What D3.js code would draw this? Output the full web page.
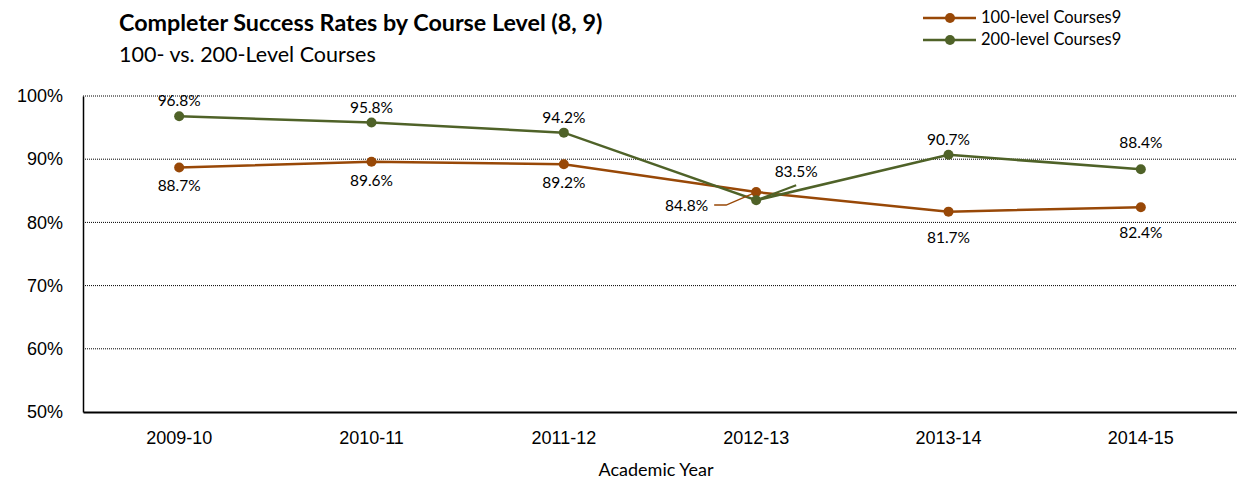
<!DOCTYPE html>
<html>
<head>
<meta charset="utf-8">
<script src="https://cdn.jsdelivr.net/npm/d3@7"></script>
<style>
  body { margin: 0; background: #fff; }
  svg { font-family: Lato, "Open Sans", sans-serif; }
</style>
</head>
<body>
<svg id="chart" width="1237" height="481"></svg>
<script>
// Chart data
const years = ['2009-10', '2010-11', '2011-12', '2012-13', '2013-14', '2014-15'];
const level100 = [88.7, 89.6, 89.2, 84.8, 81.7, 82.4];
const level200 = [96.8, 95.8, 94.2, 83.5, 90.7, 88.4];
const yTicks = [50, 60, 70, 80, 90, 100];

const series = [
  { name: '100-level Courses9', values: level100, color: '#984807', below: true },
  { name: '200-level Courses9', values: level200, color: '#4F6228', below: false }
];

const svg = d3.select('#chart');
const margin = { left: 83, right: 0, top: 96, bottom: 69 };
const width = 1237, height = 481;

const x = d3.scaleBand().domain(years).range([margin.left, width - margin.right]);
const y = d3.scaleLinear().domain([50, 100]).range([height - margin.bottom, margin.top]);
const cx = d => x(d) + x.bandwidth() / 2;

// Gridlines (dotted)
svg.append('g')
  .selectAll('line')
  .data(yTicks.filter(t => t > 50))
  .join('line')
  .attr('x1', margin.left).attr('x2', width - margin.right)
  .attr('y1', d => y(d)).attr('y2', d => y(d))
  .attr('stroke', '#000').attr('stroke-width', 1)
  .attr('stroke-dasharray', '1,1');

// Y axis
const yAxis = svg.append('g')
  .attr('transform', `translate(${margin.left},0)`)
  .call(d3.axisLeft(y).tickValues(yTicks).tickSize(0).tickPadding(20).tickFormat(d => d + '%'));
yAxis.select('.domain').attr('stroke', '#000').attr('stroke-width', 1.5);
yAxis.selectAll('text').attr('font-size', 18).attr('fill', '#000');

// X axis
const xAxis = svg.append('g')
  .attr('transform', `translate(0,${y(50)})`)
  .call(d3.axisBottom(x).tickSize(0).tickPadding(19));
xAxis.select('.domain').attr('stroke', '#000').attr('stroke-width', 2);
xAxis.selectAll('text').attr('font-size', 18).attr('fill', '#000');

svg.append('text')
  .attr('x', 656).attr('y', 476)
  .attr('text-anchor', 'middle').attr('font-size', 18)
  .text('Academic Year');

// Lines and markers
const line = d3.line().x((d, i) => cx(years[i])).y(d => y(d));

series.forEach(s => {
  svg.append('path')
    .datum(s.values)
    .attr('d', line)
    .attr('fill', 'none')
    .attr('stroke', s.color)
    .attr('stroke-width', 2.5);

  svg.append('g')
    .selectAll('circle')
    .data(s.values)
    .join('circle')
    .attr('cx', (d, i) => cx(years[i]))
    .attr('cy', d => y(d))
    .attr('r', 5)
    .attr('fill', s.color);
});

// Data labels (last columns sit a bit further from the line)
const fmt = v => v.toFixed(1) + '%';
const i2012 = years.indexOf('2012-13');
const extra = (s, i) => {
  if (s.below) return i >= 4 ? 7 : 0;
  return i === 5 ? 11 : 0;
};

series.forEach(s => {
  svg.append('g')
    .selectAll('text')
    .data(s.values.map((v, i) => ({ v, i })).filter(d => d.i !== i2012))
    .join('text')
    .attr('x', d => cx(years[d.i]))
    .attr('y', d => y(d.v) + (s.below ? 24 + extra(s, d.i) : -10 - extra(s, d.i)))
    .attr('text-anchor', 'middle')
    .attr('font-size', 15.5)
    .text(d => fmt(d.v));
});

// 2012-13 labels with leader lines
const px = cx(years[i2012]);
svg.append('polyline')
  .attr('points', `${px - 42},${y(level100[i2012]) + 13} ${px - 30},${y(level100[i2012]) + 13} ${px},${y(level100[i2012])}`)
  .attr('fill', 'none').attr('stroke', '#984807').attr('stroke-width', 1.5);
svg.append('text')
  .attr('x', px - 48).attr('y', y(level100[i2012]) + 19)
  .attr('text-anchor', 'end').attr('font-size', 15.5)
  .text(fmt(level100[i2012]));

svg.append('line')
  .attr('x1', px).attr('y1', y(level200[i2012]))
  .attr('x2', px + 40).attr('y2', y(level200[i2012]) - 15)
  .attr('stroke', '#4F6228').attr('stroke-width', 2);
svg.append('text')
  .attr('x', px + 40).attr('y', y(level200[i2012]) - 23)
  .attr('text-anchor', 'middle').attr('font-size', 15.5)
  .text(fmt(level200[i2012]));

// Title
svg.append('text')
  .attr('x', 119).attr('y', 31)
  .attr('font-size', 23.3).attr('font-weight', 'bold')
  .text('Completer Success Rates by Course Level (8, 9)');
svg.append('text')
  .attr('x', 119).attr('y', 62)
  .attr('font-size', 21.5)
  .text('100- vs. 200-Level Courses');

// Legend
const legend = svg.append('g');
series.forEach((s, i) => {
  const ly = 18 + i * 22;
  legend.append('line')
    .attr('x1', 923).attr('x2', 976).attr('y1', ly).attr('y2', ly)
    .attr('stroke', s.color).attr('stroke-width', 2.5);
  legend.append('circle')
    .attr('cx', 950).attr('cy', ly).attr('r', 5).attr('fill', s.color);
  legend.append('text')
    .attr('x', 981).attr('y', ly + 5)
    .attr('font-size', 16.5)
    .text(s.name);
});
</script>
</body>
</html>
